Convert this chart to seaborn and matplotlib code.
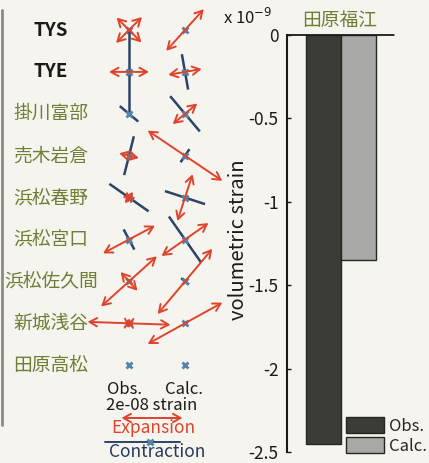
import numpy as np
import pandas as pd
import seaborn as sns
import matplotlib.pyplot as plt

# stations and principal strains (x 1e-8), azimuth of s1 in degrees from east
stations = ['TYS', 'TYE', '掛川富部', '売木岩倉', '浜松春野', '浜松宮口', '浜松佐久間', '新城浅谷', '田原高松']
obs_s1 = [1.20, 1.31, 0.10, 0.66, 0.46, 1.93, 2.46, 2.72, 0.0]
obs_s2 = [1.15, -2.69, -0.79, -1.31, -1.57, -0.75, 0.83, 0.33, 0.0]
obs_az = [45, 0, 50, -14, 55, 28, 42, -2, 0]
calc_s1 = [1.84, 1.11, 1.05, 2.95, 1.61, 1.88, 2.79, 2.80, 0.0]
calc_s2 = [-0.20, -1.18, -1.51, -0.52, -1.38, -1.84, -0.33, -0.10, 0.0]
calc_az = [48, 10, 40, -34, 72, 35, 50, 29, 0]

# volumetric strain (x 1e-9)
vol_station = '田原福江'
vol_types = ['Obs.', 'Calc.']
vol_values = [-2.45, -1.35]

sns.set_theme(style='white')
plt.rcParams['font.family'] = ['Noto Sans CJK JP', 'DejaVu Sans']
plt.rcParams['axes.unicode_minus'] = False

RED = '#e0432b'
BLUE = '#2b4468'
MARK = '#5683a8'
OLIVE = '#6f7d35'
BG = '#f6f4ee'
W, H = 429, 463

fig = plt.figure(figsize=(W / 100, H / 100), dpi=100, facecolor=BG)

# ---- left panel: principal strain glyphs (axes in pixel-like units) ----
ax1 = fig.add_axes([0, 0, 230 / W, 1])
ax1.set_xlim(0, 230)
ax1.set_ylim(H, 0)
ax1.axis('off')

k = 15.25  # px per 1e-8 strain (half length)
col_x = [129, 185]
row_y = 30 + 41.9 * np.arange(len(stations))


def draw_axis(cx, cy, s, az):
    half = abs(s) * k
    if half < 2:
        return
    a = np.deg2rad(az)
    dx, dy = half * np.cos(a), -half * np.sin(a)
    if s > 0:
        ax1.annotate('', xy=(cx + dx, cy + dy), xytext=(cx - dx, cy - dy),
                     arrowprops=dict(arrowstyle='<->,head_length=0.45,head_width=0.25',
                                     color=RED, lw=1.4, shrinkA=0, shrinkB=0))
    else:
        ax1.plot([cx - dx, cx + dx], [cy - dy, cy + dy], color=BLUE, lw=1.8,
                 solid_capstyle='butt')


for i, name in enumerate(stations):
    y = row_y[i]
    bold = name in ('TYS', 'TYE')
    ax1.text(51, y, name, ha='center', va='center', fontsize=13.5,
             fontweight='bold' if bold else 'normal',
             color='#1a1a1a' if bold else OLIVE)
    for cx, s1, s2, az in ((col_x[0], obs_s1[i], obs_s2[i], obs_az[i]),
                           (col_x[1], calc_s1[i], calc_s2[i], calc_az[i])):
        draw_axis(cx, y, s2, az + 90)
        draw_axis(cx, y, s1, az)
        ax1.plot(cx, y, marker='x', ms=4.5, mew=2, color=MARK)

# scale legend
ax1.text(125, 390, 'Obs.', ha='center', va='center', fontsize=12, color='#1a1a1a')
ax1.text(184, 390, 'Calc.', ha='center', va='center', fontsize=12, color='#1a1a1a')
ax1.text(152, 406, '2e-08 strain', ha='center', va='center', fontsize=12, color='#1a1a1a')
draw_axis(152, 418, 2.0, 0)
ax1.text(153, 428, 'Expansion', ha='center', va='center', fontsize=12.5, color=RED)
ax1.plot([105, 180], [442, 442], color=BLUE, lw=1.4)
ax1.plot(150, 442, marker='x', ms=4.5, mew=2, color=MARK)
ax1.text(157, 452, 'Contraction', ha='center', va='center', fontsize=12.5, color='#27395a')
ax1.plot([2, 2], [10, 425], color='#8a8a86', lw=2)

# ---- right panel: volumetric strain bars ----
ax2 = fig.add_axes([287 / W, (H - 452) / H, (395 - 287) / W, (452 - 35) / H])
ax2.set_facecolor(BG)
df = pd.DataFrame({'station': [vol_station] * len(vol_types), 'type': vol_types,
                   'value': vol_values})
sns.barplot(data=df, x='station', y='value', hue='type', palette=['#3d3d36', '#a9a9a7'],
            edgecolor='#262622', linewidth=1.0, width=0.8, ax=ax2)
ax2.set_xlim(-0.62, 0.62)
ax2.set_ylim(-2.5, 0)
ticks = [0, -0.5, -1, -1.5, -2, -2.5]
ax2.set_yticks(ticks)
ax2.set_yticklabels(['0', '-0.5', '-1', '-1.5', '-2', '-2.5'])
ax2.tick_params(axis='y', labelsize=12.5, direction='in', length=3, width=1, pad=6,
                left=True, colors='#1a1a1a')
ax2.set_xticks([])
ax2.set_xlabel('')
ax2.set_ylabel('')
for side in ('right', 'bottom'):
    ax2.spines[side].set_visible(False)
ax2.spines['left'].set_color('#1a1a1a')
ax2.spines['left'].set_linewidth(1.5)
ax2.spines['top'].set_color('#1a1a1a')
ax2.spines['top'].set_linestyle((0, (1.5, 1)))
ax2.spines['top'].set_linewidth(1.3)

ax2.legend(title=None, frameon=False, loc='lower left', bbox_transform=fig.transFigure,
           bbox_to_anchor=(346 / W, (H - 455) / H), fontsize=12, borderpad=0,
           handlelength=2.3, handleheight=1.1, handletextpad=0.3, labelspacing=0.15,
           borderaxespad=0)

fig.text(239 / W, 1 - 240 / H, 'volumetric strain', rotation=90, ha='center',
         va='center', fontsize=14.5, color='#1a1a1a')
fig.text(223 / W, 1 - 18 / H, 'x 10$^{-9}$', ha='left', va='center', fontsize=12,
         color='#1a1a1a')
fig.text(340 / W, 1 - 20 / H, vol_station, ha='center', va='center', fontsize=13.5,
         color=OLIVE)

fig.savefig('out.png', dpi=100, facecolor=BG)
